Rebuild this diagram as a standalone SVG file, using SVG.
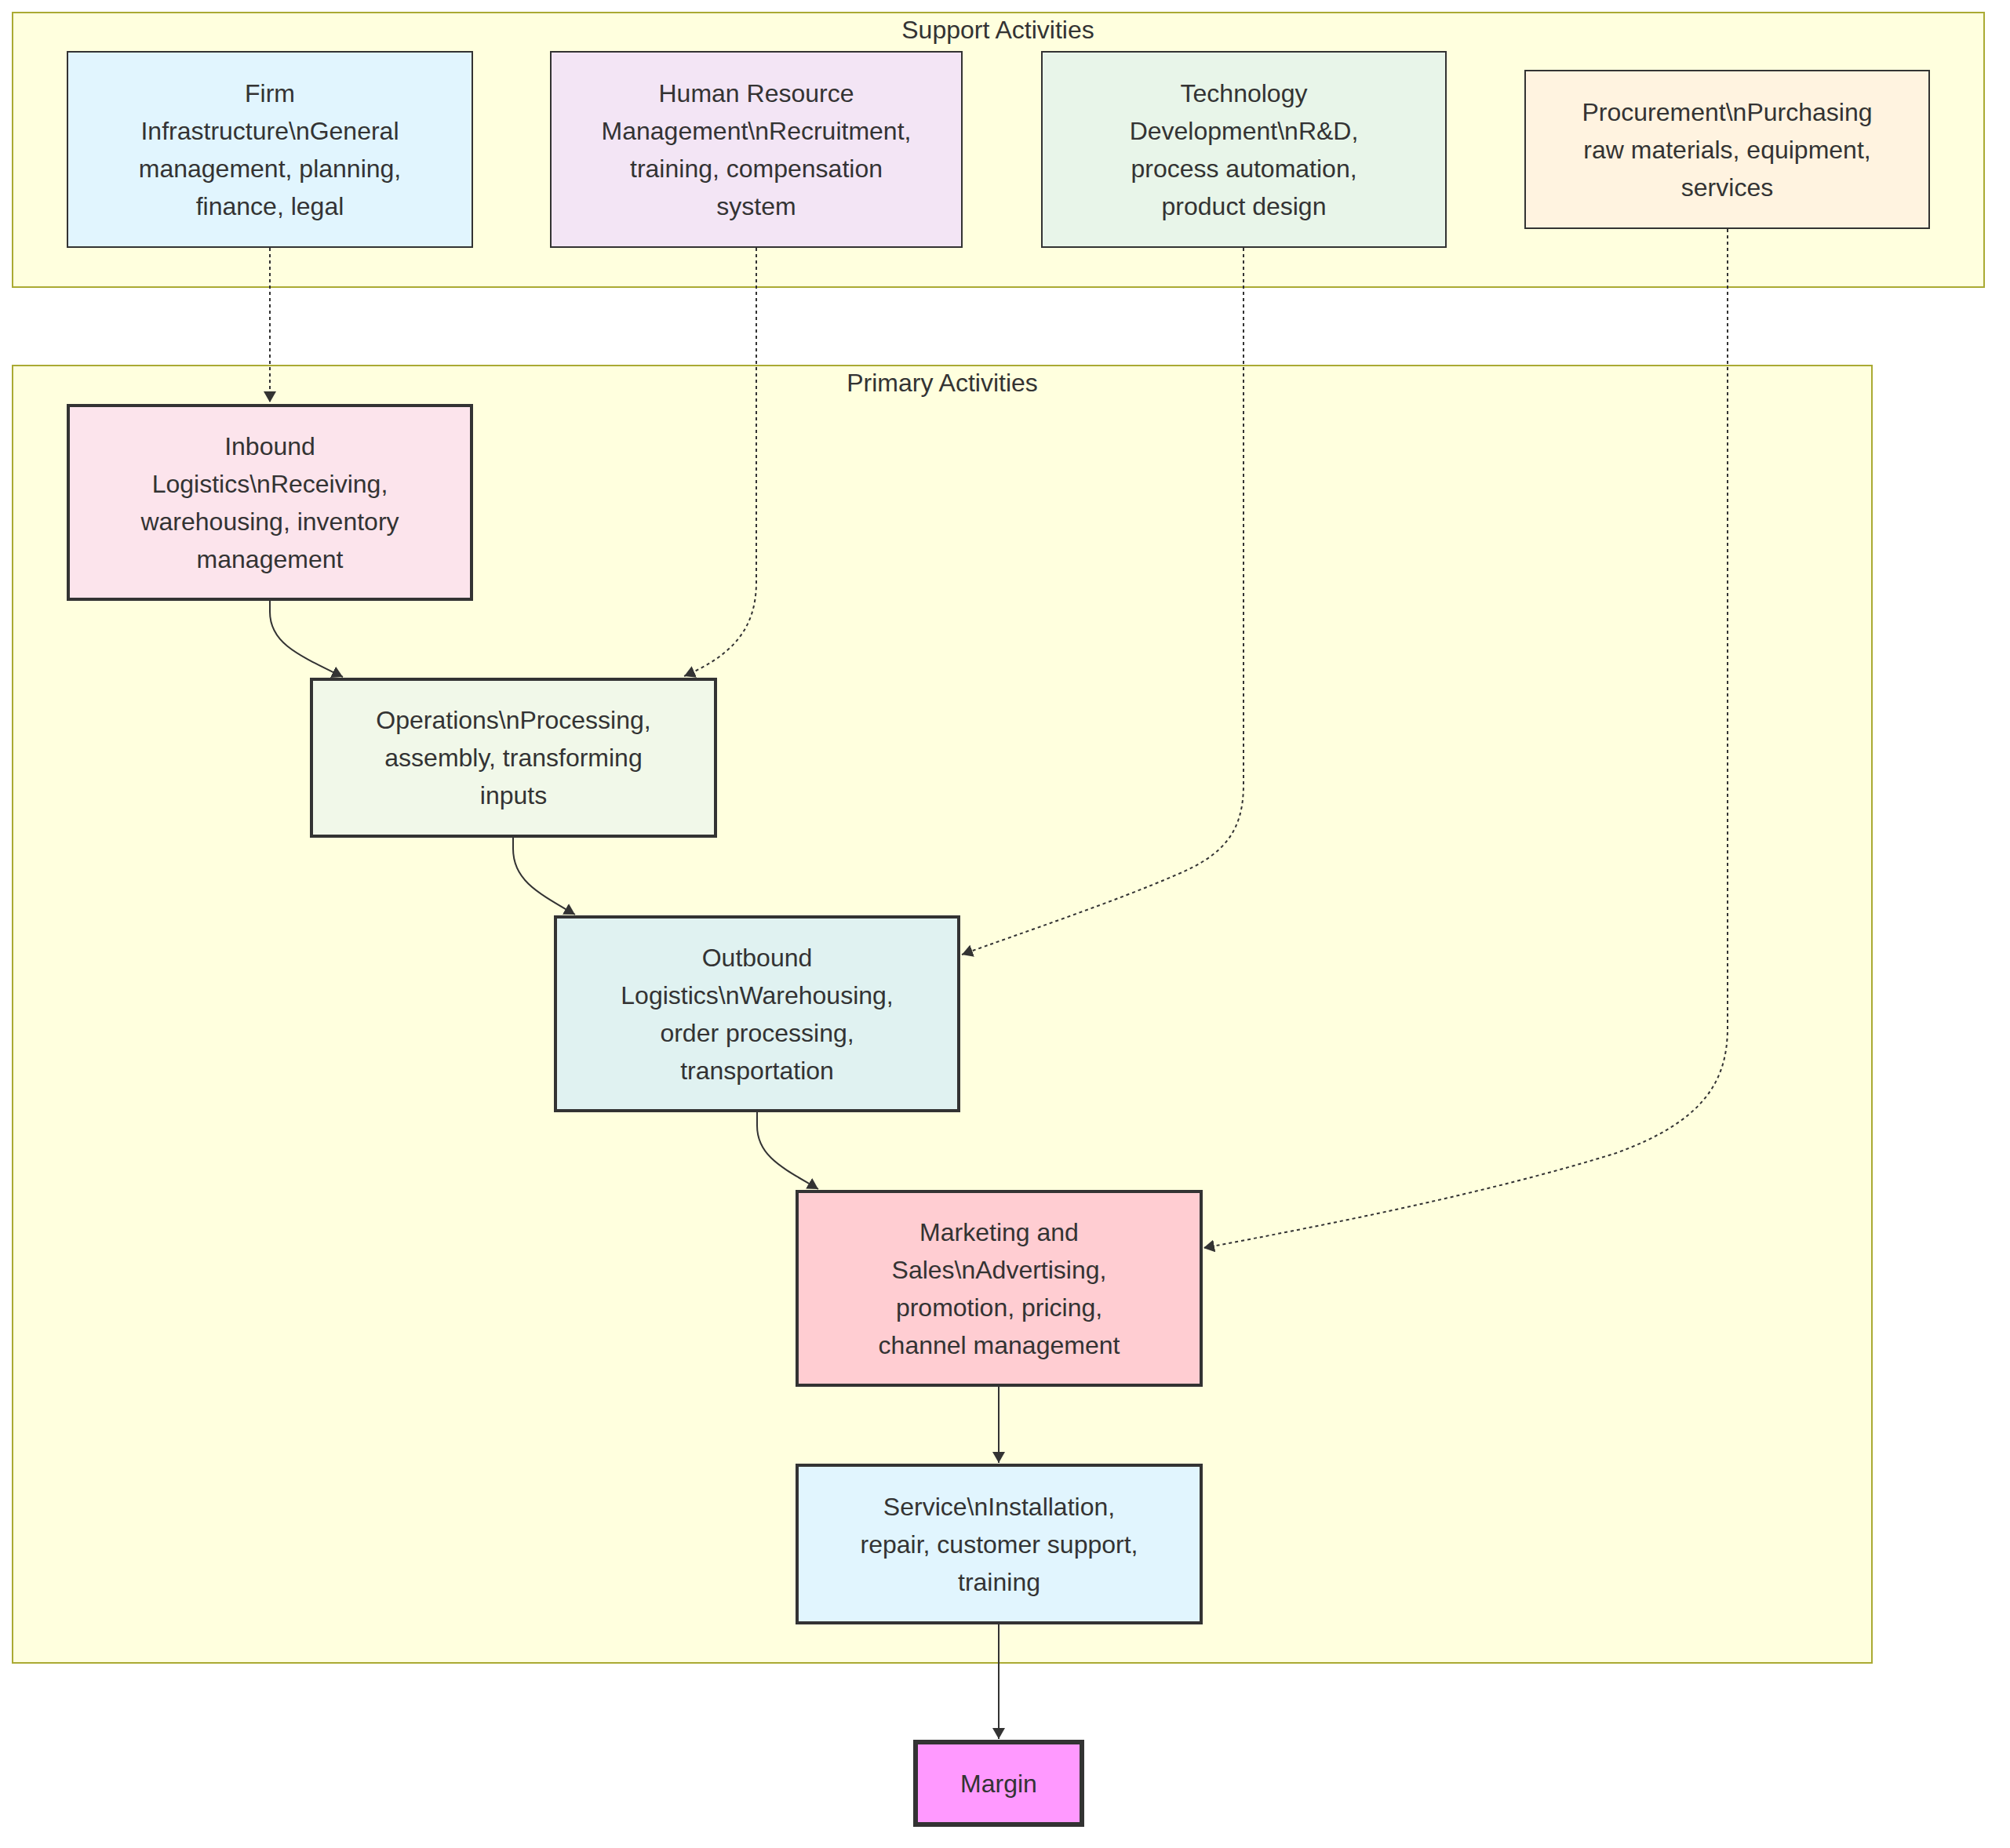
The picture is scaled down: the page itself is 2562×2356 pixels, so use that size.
<svg xmlns="http://www.w3.org/2000/svg" width="2562" height="2356" viewBox="0 0 2562 2356">
<style>
.cluster{fill:#ffffde;stroke:#aaaa33;stroke-width:2}
.title{font-family:"Liberation Sans",Arial,sans-serif;font-size:32px;fill:#333;text-anchor:middle}
.lbl{font-family:"Liberation Sans",Arial,sans-serif;font-size:32px;fill:#333;text-anchor:middle}
.sup{stroke:#333;stroke-width:2}
.pri{stroke:#333;stroke-width:4}
.edge{fill:none;stroke:#333;stroke-width:2}
.dot{stroke-dasharray:4 4}
</style>
<defs>
<marker id="arr" markerUnits="userSpaceOnUse" markerWidth="16" markerHeight="16" refX="14" refY="8" orient="auto">
<path d="M0,0 L14,8 L0,16 z" fill="#333"/>
</marker>
</defs>
<rect width="2562" height="2356" fill="#ffffff"/>
<g id="cluster-support">
<rect class="cluster" x="16" y="16" width="2513" height="350"/>
<text class="title" x="1272" y="49">Support Activities</text>
</g>
<g id="cluster-primary">
<rect class="cluster" x="16" y="466" width="2370" height="1654"/>
<text class="title" x="1201" y="499">Primary Activities</text>
</g>
<g id="connectors">
<path class="edge dot" d="M344,316 L344,513" marker-end="url(#arr)"/>
<path class="edge dot" d="M964,316 L964,742 C964,800 935,835 872,862" marker-end="url(#arr)"/>
<path class="edge dot" d="M1585,316 L1585,1000 C1585,1060 1560,1090 1500,1115 C1420,1150 1300,1190 1226,1217" marker-end="url(#arr)"/>
<path class="edge dot" d="M2202,292 L2202,1310 C2202,1380 2170,1430 2060,1470 C1900,1520 1700,1560 1534,1591" marker-end="url(#arr)"/>
<path class="edge" d="M344,766 L344,780 C344,820 380,835 437,863" marker-end="url(#arr)"/>
<path class="edge" d="M654,1068 L654,1082 C654,1122 685,1138 733,1166" marker-end="url(#arr)"/>
<path class="edge" d="M965,1418 L965,1435 C965,1475 1000,1490 1043,1516" marker-end="url(#arr)"/>
<path class="edge" d="M1273,1768 L1273,1865" marker-end="url(#arr)"/>
<path class="edge" d="M1273,2071 L1273,2217" marker-end="url(#arr)"/>
</g>
<g id="node-firm">
<rect class="sup" x="86" y="66" width="516" height="249" fill="#e1f5fe"/>
<text class="lbl" x="344" y="129.5">Firm</text>
<text class="lbl" x="344" y="177.5">Infrastructure\nGeneral</text>
<text class="lbl" x="344" y="225.5">management, planning,</text>
<text class="lbl" x="344" y="273.5">finance, legal</text>
</g>
<g id="node-hr">
<rect class="sup" x="702" y="66" width="524" height="249" fill="#f3e5f5"/>
<text class="lbl" x="964" y="129.5">Human Resource</text>
<text class="lbl" x="964" y="177.5">Management\nRecruitment,</text>
<text class="lbl" x="964" y="225.5">training, compensation</text>
<text class="lbl" x="964" y="273.5">system</text>
</g>
<g id="node-tech">
<rect class="sup" x="1328" y="66" width="515" height="249" fill="#e8f5e9"/>
<text class="lbl" x="1585.5" y="129.5">Technology</text>
<text class="lbl" x="1585.5" y="177.5">Development\nR&amp;D,</text>
<text class="lbl" x="1585.5" y="225.5">process automation,</text>
<text class="lbl" x="1585.5" y="273.5">product design</text>
</g>
<g id="node-proc">
<rect class="sup" x="1944" y="90" width="515" height="201" fill="#fff3e0"/>
<text class="lbl" x="2201.5" y="153.5">Procurement\nPurchasing</text>
<text class="lbl" x="2201.5" y="201.5">raw materials, equipment,</text>
<text class="lbl" x="2201.5" y="249.5">services</text>
</g>
<g id="node-inbound">
<rect class="pri" x="87" y="517" width="514" height="247" fill="#fce4ec"/>
<text class="lbl" x="344" y="579.5">Inbound</text>
<text class="lbl" x="344" y="627.5">Logistics\nReceiving,</text>
<text class="lbl" x="344" y="675.5">warehousing, inventory</text>
<text class="lbl" x="344" y="723.5">management</text>
</g>
<g id="node-ops">
<rect class="pri" x="397" y="866" width="515" height="200" fill="#f1f8e9"/>
<text class="lbl" x="654.5" y="929">Operations\nProcessing,</text>
<text class="lbl" x="654.5" y="977">assembly, transforming</text>
<text class="lbl" x="654.5" y="1025">inputs</text>
</g>
<g id="node-outbound">
<rect class="pri" x="708" y="1169" width="514" height="247" fill="#e0f2f1"/>
<text class="lbl" x="965" y="1231.5">Outbound</text>
<text class="lbl" x="965" y="1279.5">Logistics\nWarehousing,</text>
<text class="lbl" x="965" y="1327.5">order processing,</text>
<text class="lbl" x="965" y="1375.5">transportation</text>
</g>
<g id="node-marketing">
<rect class="pri" x="1016" y="1519" width="515" height="247" fill="#ffcdd2"/>
<text class="lbl" x="1273.5" y="1581.5">Marketing and</text>
<text class="lbl" x="1273.5" y="1629.5">Sales\nAdvertising,</text>
<text class="lbl" x="1273.5" y="1677.5">promotion, pricing,</text>
<text class="lbl" x="1273.5" y="1725.5">channel management</text>
</g>
<g id="node-service">
<rect class="pri" x="1016" y="1868" width="515" height="201" fill="#e1f5fe"/>
<text class="lbl" x="1273.5" y="1931.5">Service\nInstallation,</text>
<text class="lbl" x="1273.5" y="1979.5">repair, customer support,</text>
<text class="lbl" x="1273.5" y="2027.5">training</text>
</g>
<g id="node-margin">
<rect x="1167" y="2221" width="212" height="105" fill="#ff99ff" stroke="#333" stroke-width="6"/>
<text class="lbl" x="1273" y="2284.5">Margin</text>
</g>
</svg>
